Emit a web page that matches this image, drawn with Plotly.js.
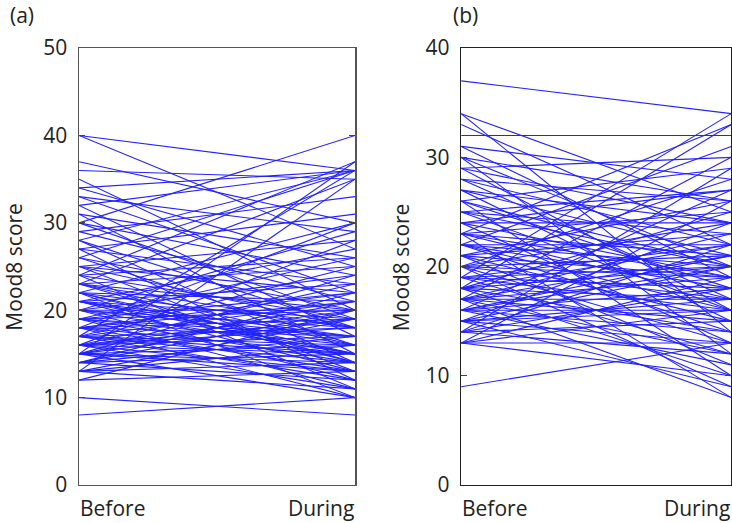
<!DOCTYPE html>
<html>
<head>
<meta charset="utf-8">
<script src="https://cdn.plot.ly/plotly-3.0.1.min.js"></script>
<style>
  html, body { margin: 0; padding: 0; background: #fff; }
  #chart { width: 732px; height: 523px; }
</style>
</head>
<body>
<div id="chart"></div>
<script>
// Time points shown on the horizontal axis
const timeLabels = ['Before', 'During'];

// Panel (a): Mood8 score per participant, before and during
const beforeA = [40,40,37,36,35,34,34,33,33,32,32,31,31,30,30,30,29,29,28,28,28,27,27,27,26,26,26,25,25,25,25,24,24,24,24,23,23,23,23,23,22,22,22,22,22,21,21,21,21,21,21,20,20,20,20,20,20,19,19,19,19,19,19,18,18,18,18,18,18,18,17,17,17,17,17,17,17,16,16,16,16,16,16,16,16,15,15,15,15,15,15,15,14,14,14,14,14,13,13,13,13,13,12,12,10,8,16,18,20,22,17,19,15,21,23];
const duringA = [36,27,30,35,20,36,25,22,29,36,17,26,15,40,24,19,33,21,36,18,14,31,23,12,36,20,16,28,22,13,18,37,26,19,11,35,25,20,16,14,30,21,18,15,10,27,23,19,17,13,16,29,24,20,18,15,12,26,22,17,16,14,11,30,22,19,17,15,13,10,36,25,21,18,16,14,12,28,23,20,18,17,15,13,11,37,24,21,19,16,14,10,22,20,17,15,12,35,19,16,14,11,20,13,8,10,19,21,17,14,15,20,13,15,18];

// Panel (b): Mood8 score per participant, before and during
const beforeB = [37,34,34,33,32,31,31,30,30,29,29,28,28,27,27,26,26,26,25,25,25,24,24,24,23,23,23,23,23,22,22,22,22,22,21,21,21,21,20,20,20,20,20,20,19,19,19,19,19,18,18,18,18,18,18,17,17,17,17,17,17,17,16,16,16,16,16,16,15,15,15,15,15,14,14,14,14,14,13,13,13,13,13,9,24,22,20,18,21,26,27,29,19,17,23,16,25,28,30,15];
const duringB = [34,14,25,22,32,19,28,20,12,24,30,17,26,21,15,29,18,10,23,16,20,27,13,19,33,21,17,8,25,31,22,14,18,20,26,19,15,11,28,24,21,17,13,9,34,22,18,16,12,33,25,20,17,14,10,30,23,19,17,15,12,8,27,21,18,16,14,11,24,20,17,13,9,29,22,18,15,12,26,19,16,13,10,13,24,16,19,22,23,20,24,16,20,21,19,20,27,22,26,16];

// Axis settings for each panel
const yRangeA = [0, 50];
const yRangeB = [0, 40];
const yTitle = 'Mood8 score';
const panelLabels = ['(a)', '(b)'];

// Join every participant's pair into one trace, separated by gaps
function pairTrace(before, during, xa, ya) {
  const x = [], y = [];
  for (let i = 0; i < before.length; i++) {
    x.push(0, 1, null);
    y.push(before[i], during[i], null);
  }
  return {
    x: x, y: y, xaxis: xa, yaxis: ya,
    type: 'scatter', mode: 'lines',
    line: { color: '#2222ff', width: 1.1 },
    hoverinfo: 'skip', showlegend: false
  };
}

const FONT = 'Open Sans, Noto Sans, sans-serif';
const TEXT = '#222';

function yAxis(range, anchor, lineColor) {
  return {
    domain: [0.0727, 0.908],
    anchor: anchor,
    range: range, dtick: 10, tick0: 0,
    ticks: 'inside', ticklen: 6, tickcolor: '#444', tickwidth: 1,
    mirror: 'ticks', showline: true, linecolor: lineColor, linewidth: 1.5,
    showgrid: false, zeroline: false,
    tickfont: { family: FONT, size: 21, color: TEXT },
    ticklabelstandoff: 6,
    fixedrange: true
  };
}
function xAxis(domain, anchor, lineColor) {
  return {
    domain: domain, anchor: anchor,
    range: [0, 1],
    showline: true, mirror: true, linecolor: lineColor, linewidth: 1.5,
    showgrid: false, zeroline: false, ticks: '', showticklabels: false,
    fixedrange: true
  };
}

const domA = [0.108, 0.485];
const domB = [0.630, 0.999];

const annotations = [
  { xref: 'x', yref: 'paper', x: 0, y: 0, xanchor: 'left', yanchor: 'bottom', text: timeLabels[0] },
  { xref: 'x', yref: 'paper', x: 1, y: 0, xanchor: 'right', yanchor: 'bottom', text: timeLabels[1] },
  { xref: 'x2', yref: 'paper', x: 0, y: 0, xanchor: 'left', yanchor: 'bottom', text: timeLabels[0] },
  { xref: 'x2', yref: 'paper', x: 1, y: 0, xanchor: 'right', yanchor: 'bottom', text: timeLabels[1] },
  { xref: 'paper', yref: 'paper', x: 0.019, y: 0.49, xanchor: 'center', yanchor: 'middle', textangle: -90, text: yTitle },
  { xref: 'paper', yref: 'paper', x: 0.547, y: 0.49, xanchor: 'center', yanchor: 'middle', textangle: -90, text: yTitle },
  { xref: 'paper', yref: 'paper', x: 0.012, y: 1.0, xanchor: 'left', yanchor: 'top', text: panelLabels[0] },
  { xref: 'paper', yref: 'paper', x: 0.618, y: 1.0, xanchor: 'left', yanchor: 'top', text: panelLabels[1] }
].map(a => Object.assign({ showarrow: false, borderpad: 0, font: { family: FONT, size: 21, color: TEXT } }, a));

const layout = {
  width: 732, height: 523,
  margin: { l: 0, r: 0, t: 0, b: 0 },
  paper_bgcolor: '#fff', plot_bgcolor: '#fff',
  xaxis: xAxis(domA, 'y', '#555'),
  yaxis: yAxis(yRangeA, 'x', '#555'),
  xaxis2: xAxis(domB, 'y2', '#222'),
  yaxis2: yAxis(yRangeB, 'x2', '#222'),
  annotations: annotations,
  showlegend: false
};

Plotly.newPlot('chart', [
  pairTrace(beforeA, duringA, 'x', 'y'),
  pairTrace(beforeB, duringB, 'x2', 'y2')
], layout, { staticPlot: true, displayModeBar: false });
</script>
</body>
</html>
